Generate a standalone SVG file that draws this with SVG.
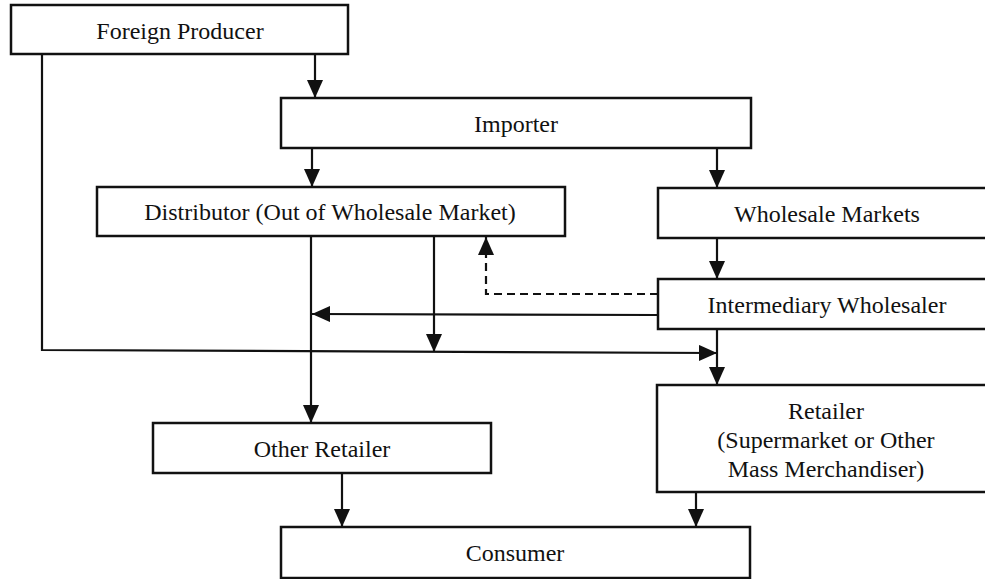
<svg xmlns="http://www.w3.org/2000/svg" width="985" height="579" viewBox="0 0 985 579">
<style>
  .box { fill: #ffffff; stroke: #111; stroke-width: 2.5; }
  .lbl { font-family: "Liberation Serif", "Times New Roman", serif; font-size: 24px; fill: #111; text-anchor: middle; }
  .ln { fill: none; stroke: #111; stroke-width: 2.2; }
  .dash { fill: none; stroke: #111; stroke-width: 2.2; stroke-dasharray: 8 5; }
</style>
<defs>
  <marker id="ah" viewBox="0 0 18 16" refX="18" refY="8" markerWidth="18" markerHeight="16" markerUnits="userSpaceOnUse" orient="auto">
    <path d="M0,0 L18,8 L0,16 Z" fill="#111"/>
  </marker>
</defs>
<rect width="985" height="579" fill="#ffffff"/>
<g id="connectors">
  <line class="ln" x1="315" y1="54" x2="315" y2="98" marker-end="url(#ah)"/>
  <line class="ln" x1="312" y1="148" x2="312" y2="187" marker-end="url(#ah)"/>
  <line class="ln" x1="717" y1="148" x2="717" y2="188" marker-end="url(#ah)"/>
  <line class="ln" x1="717" y1="238" x2="717" y2="279" marker-end="url(#ah)"/>
  <line class="ln" x1="717" y1="329" x2="717" y2="385" marker-end="url(#ah)"/>
  <line class="ln" x1="311" y1="236" x2="311" y2="423" marker-end="url(#ah)"/>
  <line class="ln" x1="434" y1="236" x2="434" y2="352" marker-end="url(#ah)"/>
  <line class="ln" x1="658" y1="315" x2="312" y2="314" marker-end="url(#ah)"/>
  <polyline class="ln" points="42,54 42,350 717,353" marker-end="url(#ah)"/>
  <polyline class="dash" points="658,294 486,294 486,237" marker-end="url(#ah)"/>
  <line class="ln" x1="342" y1="473" x2="342" y2="527" marker-end="url(#ah)"/>
  <line class="ln" x1="696" y1="492" x2="696" y2="527" marker-end="url(#ah)"/>
</g>
<g id="foreign-producer">
  <rect class="box" x="11" y="5" width="337" height="49"/>
  <text class="lbl" x="180" y="39">Foreign Producer</text>
</g>
<g id="importer">
  <rect class="box" x="281" y="98" width="470" height="50"/>
  <text class="lbl" x="516" y="132">Importer</text>
</g>
<g id="distributor">
  <rect class="box" x="97" y="187" width="468" height="49"/>
  <text class="lbl" x="330" y="220">Distributor (Out of Wholesale Market)</text>
</g>
<g id="wholesale-markets">
  <rect class="box" x="658" y="188" width="340" height="50"/>
  <text class="lbl" x="827" y="222">Wholesale Markets</text>
</g>
<g id="intermediary-wholesaler">
  <rect class="box" x="658" y="279" width="340" height="50"/>
  <text class="lbl" x="827" y="313">Intermediary Wholesaler</text>
</g>
<g id="retailer">
  <rect class="box" x="657" y="385" width="340" height="107"/>
  <text class="lbl" x="826" y="419">Retailer</text>
  <text class="lbl" x="826" y="448">(Supermarket or Other</text>
  <text class="lbl" x="826" y="477">Mass Merchandiser)</text>
</g>
<g id="other-retailer">
  <rect class="box" x="153" y="423" width="338" height="50"/>
  <text class="lbl" x="322" y="457">Other Retailer</text>
</g>
<g id="consumer">
  <rect class="box" x="281" y="527" width="469" height="51"/>
  <text class="lbl" x="515" y="561">Consumer</text>
</g>
</svg>
